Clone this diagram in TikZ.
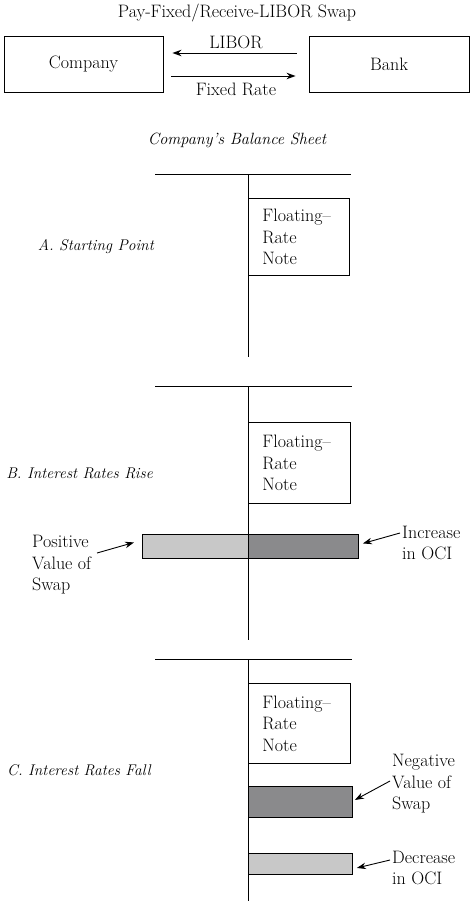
\documentclass[tikz,border=0pt]{standalone}
\usetikzlibrary{arrows.meta}
\definecolor{barlight}{RGB}{200,200,200}
\definecolor{bardark}{RGB}{138,138,140}
\begin{document}
\begin{tikzpicture}[x=1pt,y=-1pt,
  every node/.style={font=\fontsize{18}{21.5}\selectfont, inner sep=0pt},
  box/.style={draw, line width=0.9pt},
  rule/.style={line width=1pt},
  arr/.style={-{Stealth[length=9pt,width=6.5pt]}, line width=0.9pt},
  lbl/.style={align=left, anchor=west},
  sec/.style={font=\fontsize{15.5}{21.5}\selectfont\itshape, anchor=east},
  fn/.style={box, anchor=north west, minimum width=101pt, minimum height=77pt, text width=73pt, inner xsep=14pt, align=left},
  bar/.style={draw, line width=0.9pt, anchor=north west}]
\useasboundingbox (0,0) rectangle (474,901);

% top swap diagram
\node (title) at (237,13) {Pay-Fixed/Receive-LIBOR Swap};
\node[box, minimum width=159pt, minimum height=56pt] (company) at (83.5,64) {Company};
\node[box, minimum width=160pt, minimum height=56pt] (bank) at (389,64) {Bank};
\draw[arr, shorten <=12pt, shorten >=9pt] ([yshift=11pt]bank.west) -- ([yshift=11pt]company.east)
  node[midway, yshift=11pt] (libor) {LIBOR};
\draw[arr, shorten <=8pt, shorten >=13pt] ([yshift=-12pt]company.east) -- ([yshift=-12pt]bank.west)
  node[midway, yshift=-13pt] (fixed) {Fixed Rate};

\node[font=\fontsize{16.3}{21.5}\selectfont\itshape] (bs) at (237,140) {Company’s Balance Sheet};

% Section A
\draw[rule] (155,175) -- (351,175);
\draw[rule] (248,175) -- (248,357);
\node[fn] (noteA) at (248,198) {Floating--\\Rate\\Note};
\node[sec] (secA) at (154,247) {A. Starting Point};

% Section B
\node[bar, fill=barlight, minimum width=106pt, minimum height=24pt] (posB) at (142,534) {};
\node[bar, fill=bardark, minimum width=110pt, minimum height=24pt] (incB) at (248,534) {};
\draw[rule] (155,386) -- (352,386);
\draw[rule] (248,386) -- (248,640);
\node[fn, minimum height=81pt, minimum width=102pt, text width=74pt] (noteB) at (248,422) {Floating--\\Rate\\Note};
\node[sec] (secB) at (153,473) {B. Interest Rates Rise};
\node[lbl] (posL) at (32,565) {Positive\\Value of\\Swap};
\node[lbl] (incL) at (402,543) {Increase\\in OCI};
\coordinate (posT) at (97,553);
\coordinate (incT) at (400,533);
\draw[arr] (posT) -- ([xshift=-8pt,yshift=4pt]posB.west);
\draw[arr] (incT) -- ([xshift=4pt,yshift=3pt]incB.east);

% Section C
\node[bar, fill=bardark, minimum width=104pt, minimum height=31pt] (negC) at (248,786) {};
\node[bar, fill=barlight, minimum width=104pt, minimum height=21pt] (decC) at (248,853) {};
\draw[rule] (155,659) -- (352,659);
\draw[rule] (248,659) -- (248,901);
\node[fn, minimum height=80pt, minimum width=102pt, text width=74pt] (noteC) at (248,683) {Floating--\\Rate\\Note};
\node[sec] (secC) at (151,770) {C. Interest Rates Fall};
\node[lbl] (negL) at (392,784) {Negative\\Value of\\Swap};
\node[lbl] (decL) at (392,868) {Decrease\\in OCI};
\coordinate (negT) at (390,781);
\coordinate (decT) at (390,860);
\draw[arr] (negT) -- ([xshift=2pt,yshift=2pt]negC.east);
\draw[arr] (decT) -- ([xshift=4pt,yshift=-4pt]decC.east);
\end{tikzpicture}
\end{document}
